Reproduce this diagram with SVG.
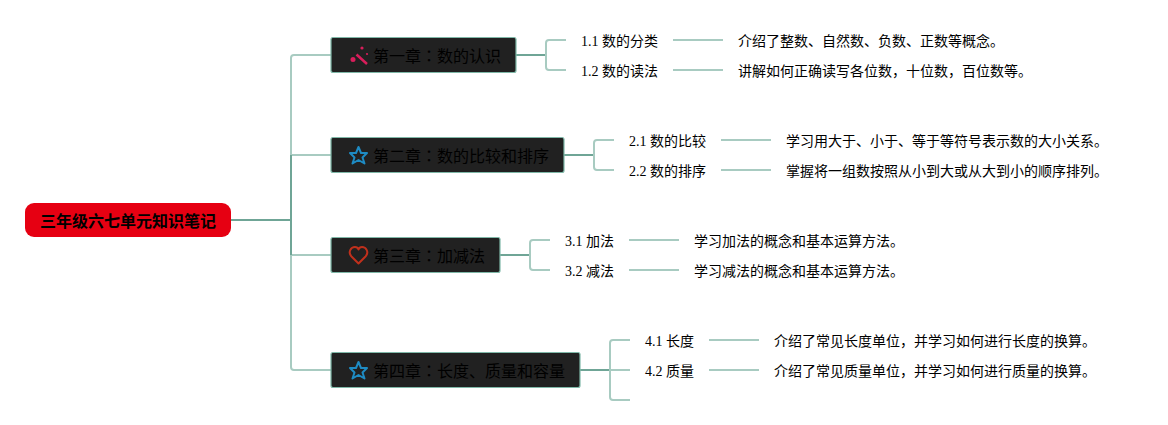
<svg xmlns="http://www.w3.org/2000/svg" width="1168" height="425" viewBox="0 0 1168 425">
<style>
text{font-family:"Liberation Serif","Noto Sans CJK SC",serif;fill:#000}
.root{font-size:16px;font-weight:700}
.ch{font-size:16px}
.c{font-family:"Noto Sans CJK TC",sans-serif}
.t{font-size:14px}
.box{fill:#212121;stroke:#7fb8a8;stroke-width:1.200}
.l{fill:none;stroke:#a8cbc1;stroke-width:2}
.d{fill:none;stroke:#6fa596;stroke-width:2}
.m{fill:#d81e5b}
.s{fill:none;stroke:#1e8bc3;stroke-width:2;stroke-linejoin:round}
</style>
<g id="connectors">
<path class="l" d="M291 155V58Q291 55 294 55H331M291 155H331M291 255H331M291 255V367Q291 370 294 370H331"/>
<path class="d" d="M231 220H291M291 155V255"/>
<path class="d" d="M516 55H546M564 155H594M500 255H530M580 370H610"/>
<path class="l" d="M566 40H549Q546 40 546 43V67Q546 70 549 70H566"/>
<path class="l" d="M614 140H597Q594 140 594 143V167Q594 170 597 170H614"/>
<path class="l" d="M550 240H533Q530 240 530 243V267Q530 270 533 270H550"/>
<path class="l" d="M630 340H613Q610 340 610 343V397Q610 400 613 400H630M610 370H630"/>
<path class="l" d="M673 40H723M673 70H723M721 140H771M721 170H771M629 240H679M629 270H679M709 340H759M709 370H759"/>
</g>
<g id="root"><rect x="25" y="203" width="206" height="34" rx="9" fill="#e60012"/><text class="root" x="40" y="227">三年级六七单元知识笔记</text></g>
<g id="chapter1"><rect class="box" x="331" y="37.500" width="185" height="35" rx="2"/>
<path d="M356.500 54.500L367 64" stroke="#d81e5b" stroke-width="2.500" fill="none"/><circle class="m" cx="353" cy="59.500" r="2.500"/><circle class="m" cx="362" cy="48" r="1.600"/><circle class="m" cx="367" cy="54" r="1.100"/>
<text class="ch" x="373" y="62">第一章<tspan class="c">：</tspan>数的认识</text></g>
<g id="chapter2"><rect class="box" x="331" y="137.500" width="233" height="35" rx="2"/>
<path class="s" d="M358.500 147L361 153H367L362.500 157.500L364.500 163.500L358.500 160L352.500 163.500L354.500 157.500L350 153H356Z"/>
<text class="ch" x="373" y="162">第二章<tspan class="c">：</tspan>数的比较和排序</text></g>
<g id="chapter3"><rect class="box" x="331" y="237.500" width="169" height="35" rx="2"/>
<path d="M358.500 263.500L351.500 256.500C347.500 252 351 247 355 247C357 247 358 248 358.500 249.500C359 248 360 247 362 247C366 247 369.500 252 365.500 256.500Z" fill="none" stroke="#c0301c" stroke-width="2" stroke-linejoin="round"/>
<text class="ch" x="373" y="262">第三章<tspan class="c">：</tspan>加减法</text></g>
<g id="chapter4"><rect class="box" x="331" y="352.500" width="249" height="35" rx="2"/>
<path class="s" d="M358.500 362L361 368H367L362.500 372.500L364.500 378.500L358.500 375L352.500 378.500L354.500 372.500L350 368H356Z"/>
<text class="ch" x="373" y="377">第四章<tspan class="c">：</tspan>长度、质量和容量</text></g>
<g id="n11"><text class="t" x="581" y="46">1.1 数的分类</text></g>
<g id="n12"><text class="t" x="581" y="76">1.2 数的读法</text></g>
<g id="n21"><text class="t" x="629" y="146">2.1 数的比较</text></g>
<g id="n22"><text class="t" x="629" y="176">2.2 数的排序</text></g>
<g id="n31"><text class="t" x="565" y="246">3.1 加法</text></g>
<g id="n32"><text class="t" x="565" y="276">3.2 减法</text></g>
<g id="n41"><text class="t" x="645" y="346">4.1 长度</text></g>
<g id="n42"><text class="t" x="645" y="376">4.2 质量</text></g>
<g id="d11"><text class="t" x="738" y="46">介绍了整数、自然数、负数、正数等概念。</text></g>
<g id="d12"><text class="t" x="738" y="76">讲解如何正确读写各位数，十位数，百位数等。</text></g>
<g id="d21"><text class="t" x="786" y="146">学习用大于、小于、等于等符号表示数的大小关系。</text></g>
<g id="d22"><text class="t" x="786" y="176">掌握将一组数按照从小到大或从大到小的顺序排列。</text></g>
<g id="d31"><text class="t" x="694" y="246">学习加法的概念和基本运算方法。</text></g>
<g id="d32"><text class="t" x="694" y="276">学习减法的概念和基本运算方法。</text></g>
<g id="d41"><text class="t" x="774" y="346">介绍了常见长度单位，并学习如何进行长度的换算。</text></g>
<g id="d42"><text class="t" x="774" y="376">介绍了常见质量单位，并学习如何进行质量的换算。</text></g>
</svg>
